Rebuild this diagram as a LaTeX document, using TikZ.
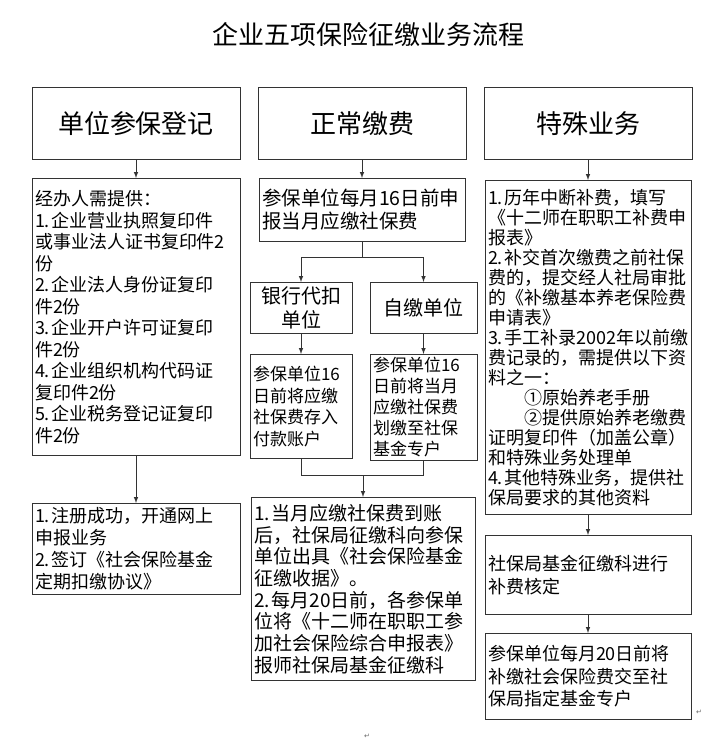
\documentclass[tikz,border=0pt]{standalone}
\usepackage{fontspec}
\setmainfont{Noto Sans CJK SC}
\newfontfamily\symfont{DejaVu Sans}
\usetikzlibrary{arrows,positioning}
\tikzstyle{headbox} = [rectangle, draw=black!80, line width=1pt, minimum width=208pt, minimum height=72pt, font=\fontsize{26}{30}\selectfont]
\tikzstyle{textbox} = [rectangle, draw=black!80, line width=1pt, inner sep=3pt, align=left, font=\fontsize{18}{21.5}\selectfont]
\tikzstyle{arrow} = [line width=1pt, draw=black!80, ->, >=latex]
\tikzstyle{link} = [line width=1pt, draw=black!80]
% item number with a small fixed gap (no line break after it)
\newcommand{\itemno}[1]{#1.\kern2pt\relax}

\begin{document}
\begin{tikzpicture}[x=1pt, y=-1pt, node distance=226pt]
\useasboundingbox (0,0) rectangle (726,740);
\node (title) at (368,35) [font=\fontsize{26}{30}\selectfont] {企业五项保险征缴业务流程};

\node (reg) [headbox] at (136,123.5) {单位参保登记};
\node (pay) [headbox, right of=reg] {正常缴费};
\node (spec) [headbox, right of=pay] {特殊业务};

% left column
\node (regdocs) [textbox, text width=202pt, minimum height=277pt, below=18pt of reg] {经办人需提供：\\\itemno{1}企业营业执照复印件\\或事业法人证书复印件2\\份\\\itemno{2}企业法人身份证复印\\件2份\\\itemno{3}企业开户许可证复印\\件2份\\\itemno{4}企业组织机构代码证\\复印件2份\\\itemno{5}企业税务登记证复印\\件2份};
\node (regdone) [textbox, text width=202pt, minimum height=91pt, below=47pt of regdocs, font=\fontsize{18}{22}\selectfont] {\itemno{1}注册成功，开通网上\\申报业务\\\itemno{2}签订《社会保险基金\\定期扣缴协议》};

% middle column
\node (report) [textbox, text width=200pt, minimum height=63pt, below=18pt of pay, font=\fontsize{19.5}{23}\selectfont] {参保单位每月16日前申\\报当月应缴社保费};
\node (bank) [textbox, align=center, text width=96pt, minimum height=51pt, below=40pt of report, xshift=-61pt, font=\fontsize{20}{24}\selectfont] {银行代扣\\单位};
\node (self) [textbox, align=center, text width=101pt, minimum height=51pt, below=40pt of report, xshift=61.5pt, font=\fontsize{20}{24}\selectfont] {自缴单位};
\node (bankdep) [textbox, text width=96pt, minimum height=104pt, below=20pt of bank, font=\fontsize{17}{21.5}\selectfont] {参保单位16\\日前将应缴\\社保费存入\\付款账户};
\node (selfdep) [textbox, text width=101pt, minimum height=104pt, below=20pt of self, font=\fontsize{17}{21}\selectfont] {参保单位16\\日前将当月\\应缴社保费\\划缴至社保\\基金专户};
\node (payinfo) [textbox, text width=218pt, minimum height=183pt, anchor=north, font=\fontsize{19}{21.7}\selectfont] at (363,497) {\itemno{1}当月应缴社保费到账\\后，社保局征缴科向参保\\单位出具《社会保险基金\\征缴收据》。\\\itemno{2}每月20日前，各参保单\\位将《十二师在职职工参\\加社会保险综合申报表》\\报师社保局基金征缴科};
\coordinate (merge) at (363,475);

% right column
\node (special) [textbox, text width=200pt, minimum height=334pt, below=20pt of spec, font=\fontsize{18}{20}\selectfont] {\itemno{1}历年中断补费，填写\\《十二师在职职工补费申\\报表》\\\itemno{2}补交首次缴费之前社保\\费的，提交经人社局审批\\的《补缴基本养老保险费\\申请表》\\\itemno{3}手工补录2002年以前缴\\费记录的，需提供以下资\\料之一：\\\hspace*{2em}①原始养老手册\\\hspace*{2em}②提供原始养老缴费\\证明复印件（加盖公章）\\和特殊业务处理单\\\itemno{4}其他特殊业务，提供社\\保局要求的其他资料};
\node (check) [textbox, text width=200pt, minimum height=79pt, below=20pt of special, font=\fontsize{18}{23}\selectfont] {社保局基金征缴科进行\\补费核定};
\node (transfer) [textbox, text width=200pt, minimum height=86pt, below=18pt of check, font=\fontsize{18}{22.5}\selectfont] {参保单位每月20日前将\\补缴社会保险费交至社\\保局指定基金专户};

\node (endmark) at (367,736) [font={\symfont\fontsize{7}{7}\selectfont}, text=black!60] {↵};
\node (boxmark) at (699,712) [font={\symfont\fontsize{7}{7}\selectfont}, text=black!60] {↵};

\draw [arrow] (reg) -- (regdocs);
\draw [arrow] (regdocs) -- (regdone);

\draw [arrow] (pay) -- (report);
\draw [link] (report.south) -- ++(0,15) coordinate (split);
\draw [arrow] (split) -| (bank);
\draw [arrow] (split) -| (self);
\draw [arrow] (bank) -- (bankdep);
\draw [arrow] (self) -- (selfdep);
\draw [link] (bankdep) |- (merge);
\draw [link] (selfdep) |- (merge);
\draw [arrow] (merge) -- (payinfo);

\draw [arrow] (spec) -- (special);
\draw [arrow] (special) -- (check);
\draw [arrow] (check) -- (transfer);
\end{tikzpicture}
\end{document}
